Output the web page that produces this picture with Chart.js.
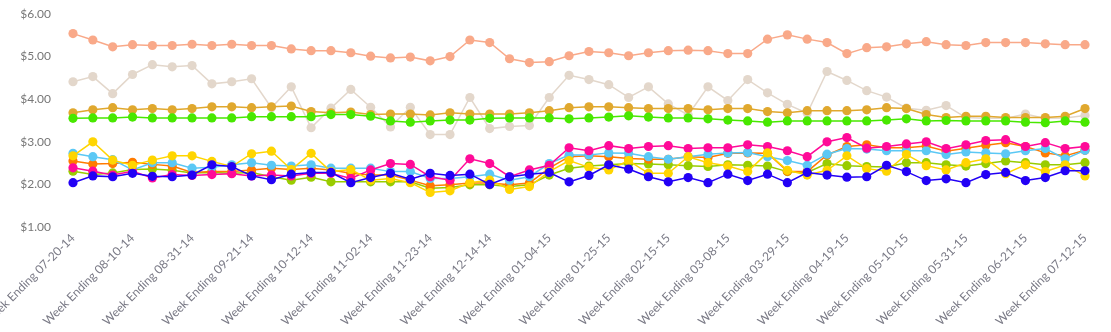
<!DOCTYPE html>
<html>
<head>
<meta charset="utf-8">
<script src="https://cdn.jsdelivr.net/npm/chart.js@4.4.1/dist/chart.umd.min.js"></script>
<style>
  html, body { margin: 0; padding: 0; background: #fff; }
  #wrap { width: 1111px; height: 332px; position: relative; }
</style>
</head>
<body>
<div id="wrap"><canvas id="priceChart"></canvas></div>
<script>
// Weekly price per series, one value per week
const weeks = [
  '07-20-14', '07-27-14', '08-03-14', '08-10-14', '08-17-14', '08-24-14', '08-31-14', '09-07-14', '09-14-14', '09-21-14',
  '09-28-14', '10-05-14', '10-12-14', '10-19-14', '10-26-14', '11-02-14', '11-09-14', '11-16-14', '11-23-14', '11-30-14',
  '12-07-14', '12-14-14', '12-21-14', '12-28-14', '01-04-15', '01-11-15', '01-18-15', '01-25-15', '02-01-15', '02-08-15',
  '02-15-15', '02-22-15', '03-01-15', '03-08-15', '03-15-15', '03-22-15', '03-29-15', '04-05-15', '04-12-15', '04-19-15',
  '04-26-15', '05-03-15', '05-10-15', '05-17-15', '05-24-15', '05-31-15', '06-07-15', '06-14-15', '06-21-15', '06-28-15',
  '07-05-15', '07-12-15'
];

const yTicks = [1, 2, 3, 4, 5, 6];

const salmon = [
  5.54, 5.39, 5.23, 5.28, 5.26, 5.26, 5.29, 5.26, 5.29, 5.26,
  5.26, 5.18, 5.14, 5.14, 5.09, 5.01, 4.97, 4.99, 4.90, 5.00,
  5.39, 5.33, 4.95, 4.86, 4.88, 5.02, 5.12, 5.09, 5.02, 5.09,
  5.14, 5.15, 5.14, 5.07, 5.07, 5.41, 5.51, 5.41, 5.33, 5.07,
  5.21, 5.23, 5.30, 5.35, 5.28, 5.26, 5.33, 5.33, 5.33, 5.30,
  5.28, 5.28
];
const beige = [
  4.41, 4.53, 4.13, 4.58, 4.81, 4.76, 4.79, 4.36, 4.41, 4.48,
  3.80, 4.29, 3.33, 3.79, 4.23, 3.81, 3.35, 3.81, 3.17, 3.17,
  4.04, 3.31, 3.36, 3.38, 4.04, 4.56, 4.46, 4.34, 4.04, 4.29,
  3.89, 3.63, 4.29, 3.97, 4.46, 4.15, 3.88, 3.67, 4.65, 4.44,
  4.20, 4.05, 3.79, 3.74, 3.85, 3.57, 3.55, 3.55, 3.65, 3.55,
  3.56, 3.62
];
const gold = [
  3.68, 3.75, 3.80, 3.75, 3.78, 3.75, 3.78, 3.82, 3.82, 3.80,
  3.82, 3.84, 3.71, 3.68, 3.70, 3.64, 3.65, 3.65, 3.63, 3.68,
  3.65, 3.65, 3.65, 3.68, 3.73, 3.80, 3.82, 3.82, 3.80, 3.78,
  3.78, 3.78, 3.75, 3.78, 3.78, 3.71, 3.68, 3.73, 3.73, 3.73,
  3.75, 3.80, 3.78, 3.64, 3.57, 3.60, 3.60, 3.57, 3.57, 3.57,
  3.60, 3.78
];
const green = [
  3.55, 3.56, 3.56, 3.58, 3.56, 3.56, 3.56, 3.56, 3.56, 3.59,
  3.59, 3.59, 3.59, 3.64, 3.64, 3.60, 3.49, 3.46, 3.49, 3.51,
  3.51, 3.55, 3.56, 3.56, 3.56, 3.54, 3.56, 3.58, 3.61, 3.58,
  3.56, 3.56, 3.54, 3.51, 3.49, 3.46, 3.49, 3.49, 3.49, 3.49,
  3.49, 3.51, 3.54, 3.49, 3.50, 3.49, 3.49, 3.49, 3.46, 3.45,
  3.49, 3.46
];
const yellow = [
  2.67, 3.00, 2.57, 2.45, 2.57, 2.67, 2.67, 2.54, 2.42,
  2.72, 2.78, 2.35, 2.73, 2.30, 2.35, 2.10, 2.14, 2.04,
  1.81, 1.85, 2.04, 2.10, 1.88, 1.95, 2.30, 2.56, 2.40,
  2.34, 2.56, 2.26, 2.26, 2.65, 2.51, 2.43, 2.30, 2.74,
  2.33, 2.22, 2.33, 2.67, 2.37, 2.31, 2.70, 2.44,
  2.34, 2.51, 2.60, 2.25, 2.46, 2.30, 2.46, 2.20
];
const lightBlue = [
  2.73, 2.65, 2.58, 2.34, 2.51, 2.51, 2.38, 2.40, 2.46,
  2.51, 2.45, 2.43, 2.46, 2.38, 2.38, 2.38, 2.30, 2.30,
  2.14, 2.14, 2.18, 2.24, 2.10, 2.18, 2.49, 2.69, 2.69,
  2.74, 2.73, 2.65, 2.59, 2.65, 2.71, 2.74, 2.75, 2.65,
  2.56, 2.45, 2.71, 2.84, 2.83, 2.79, 2.79, 2.79,
  2.70, 2.76, 2.74, 2.72, 2.79, 2.84, 2.60, 2.80
];
const orange = [
  2.55, 2.48, 2.49, 2.52, 2.47, 2.43, 2.28, 2.30, 2.30,
  2.34, 2.38, 2.35, 2.38, 2.34, 2.26, 2.22, 2.22, 2.10,
  1.97, 1.99, 2.03, 2.03, 1.99, 2.03, 2.38, 2.65, 2.67,
  2.65, 2.61, 2.59, 2.59, 2.65, 2.63, 2.73, 2.74, 2.73,
  2.31, 2.30, 2.69, 2.89, 2.93, 2.86, 2.86, 2.90,
  2.78, 2.85, 2.92, 2.98, 2.89, 2.74, 2.67, 2.80
];
const limeGreen = [
  2.31, 2.23, 2.27, 2.35, 2.36, 2.33, 2.27, 2.28, 2.26,
  2.28, 2.18, 2.10, 2.17, 2.06, 2.06, 2.06, 2.06, 2.06,
  1.91, 1.93, 1.99, 1.99, 1.95, 1.99, 2.22, 2.38, 2.43,
  2.46, 2.49, 2.48, 2.46, 2.44, 2.42, 2.46, 2.45, 2.43,
  2.30, 2.28, 2.49, 2.44, 2.42, 2.41, 2.51, 2.51,
  2.46, 2.43, 2.49, 2.55, 2.51, 2.46, 2.46, 2.51
];
const pink = [
  2.39, 2.31, 2.22, 2.31, 2.15, 2.23, 2.21, 2.23, 2.25,
  2.20, 2.22, 2.20, 2.26, 2.26, 2.14, 2.34, 2.49, 2.47,
  2.18, 2.10, 2.60, 2.49, 2.18, 2.34, 2.45, 2.86, 2.79,
  2.91, 2.84, 2.89, 2.91, 2.84, 2.86, 2.86, 2.93, 2.89,
  2.79, 2.65, 3.00, 3.10, 2.85, 2.89, 2.95, 3.00,
  2.84, 2.93, 3.03, 3.05, 2.89, 2.98, 2.84, 2.89
];
const blue = [
  2.04, 2.20, 2.18, 2.26, 2.19, 2.18, 2.22, 2.46, 2.42,
  2.20, 2.11, 2.24, 2.28, 2.28, 2.04, 2.16, 2.26, 2.12,
  2.26, 2.21, 2.24, 2.00, 2.18, 2.24, 2.28, 2.06, 2.21,
  2.46, 2.36, 2.18, 2.06, 2.16, 2.04, 2.24, 2.09, 2.24,
  2.04, 2.28, 2.22, 2.17, 2.18, 2.45, 2.30, 2.09,
  2.13, 2.04, 2.23, 2.28, 2.09, 2.16, 2.32, 2.32
];

const labels = weeks.map(w => 'Week Ending ' + w);

// first dataset is drawn on top
function series(name, data, color) {
  return {
    label: name,
    data: data,
    borderColor: color,
    backgroundColor: color,
    borderWidth: 1.5,
    pointRadius: 4.6,
    pointBorderWidth: 0,
    pointHoverRadius: 5,
    tension: 0,
    fill: false
  };
}

Chart.defaults.font.family = 'Lato, "Open Sans", sans-serif';
Chart.defaults.font.size = 12;
Chart.defaults.color = '#777';

new Chart(document.getElementById('priceChart'), {
  type: 'line',
  data: {
    labels: labels,
    datasets: [
      series('Blue', blue, '#2200f5'),
      series('Yellow', yellow, '#ffd500'),
      series('Pink', pink, '#ff0a98'),
      series('Light Blue', lightBlue, '#5bc8f5'),
      series('Orange', orange, '#ff7b00'),
      series('Lime', limeGreen, '#99cc00'),
      series('Green', green, '#48e800'),
      series('Gold', gold, '#e0a82e'),
      series('Beige', beige, '#e3d7cb'),
      series('Salmon', salmon, '#f9a989')
    ]
  },
  options: {
    responsive: true,
    maintainAspectRatio: false,
    animation: false,
    layout: { padding: { top: 14, right: 26, left: 0, bottom: 0 } },
    plugins: {
      legend: { display: false },
      tooltip: { enabled: false }
    },
    scales: {
      x: {
        grid: { display: false, drawTicks: false },
        border: { display: false },
        ticks: {
          autoSkip: false,
          minRotation: 45,
          maxRotation: 45,
          padding: 4,
          color: '#7a7a86',
          callback: function(value, index) {
            return index % 3 === 0 ? labels[index] : null;
          }
        },
        afterFit: function(scale) {
          scale.height = 105;
          scale.paddingLeft = 0;
          scale.paddingRight = 0;
          scale.paddingTop = 0;
          scale.paddingBottom = 0;
        }
      },
      y: {
        min: 1,
        max: 6,
        grid: { display: false, drawTicks: false },
        border: { display: false },
        afterBuildTicks: function(scale) {
          scale.ticks = yTicks.map(v => ({ value: v }));
        },
        ticks: {
          padding: 22,
          color: '#777',
          callback: function(value) {
            return '$' + Number(value).toFixed(2);
          }
        },
        afterFit: function(scale) {
          scale.width = 73;
          scale.paddingTop = 0;
          scale.paddingBottom = 0;
        }
      }
    }
  }
});
</script>
</body>
</html>
